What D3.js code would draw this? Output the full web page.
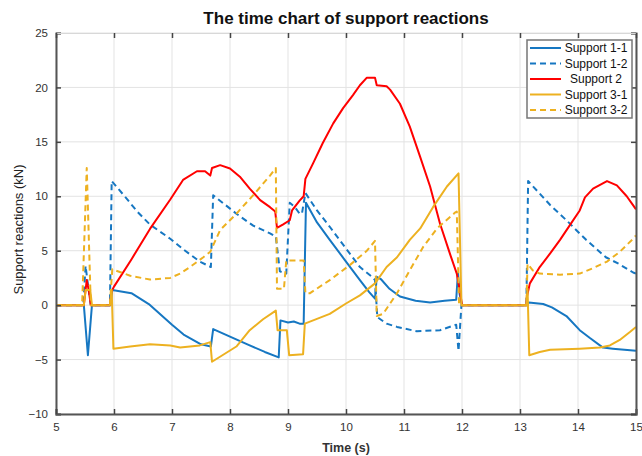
<!DOCTYPE html>
<html><head><meta charset="utf-8">
<script src="https://cdn.jsdelivr.net/npm/d3@7"></script>
<style>
html,body{margin:0;padding:0;background:#fff;}
text{font-family:"Liberation Sans Narrow","Arial Narrow","Liberation Sans",Arial,sans-serif;}
</style></head>
<body><svg id="chart" width="642" height="456"></svg>
<script>
// ---- data ----
const title = "The time chart of support reactions";
const xLabel = "Time (s)";
const yLabel = "Support reactions  (kN)";
const xTicks = [5,6,7,8,9,10,11,12,13,14,15];
const yTicks = [-10,-5,0,5,10,15,20,25];
const seriesNames = ["Support 1-1","Support 1-2","Support 2","Support 3-1","Support 3-2"];

const support11 = [[5,0],[5.48,0],[5.55,-4.6],[5.62,0],[5.94,0],[5.97,1.4],[6.3,1.1],[6.6,0.1],[7.0,-1.8],[7.2,-2.7],[7.5,-3.6],[7.67,-3.8],[7.71,-2.2],[8.0,-2.9],[8.3,-3.6],[8.6,-4.3],[8.84,-4.8],[8.87,-1.4],[9.0,-1.6],[9.1,-1.5],[9.2,-1.7],[9.27,-1.7],[9.31,9.4],[9.5,7.6],[9.72,6.0],[10.0,4.0],[10.24,2.3],[10.4,1.2],[10.5,0.6],[10.53,2.6],[10.6,2.4],[10.75,1.5],[10.93,0.8],[11.2,0.4],[11.45,0.25],[11.7,0.4],[11.9,0.5],[11.93,3.0],[11.96,1.0],[12.0,0],[13.12,0],[13.15,0.25],[13.4,0.1],[13.55,-0.2],[13.8,-1.0],[14.03,-2.3],[14.2,-3.0],[14.43,-3.9],[14.6,-4.0],[14.8,-4.1],[15,-4.2]];
const support12 = [[5,0],[5.47,0],[5.51,3.6],[5.56,1.5],[5.6,0],[5.93,0],[5.96,11.4],[6.2,9.9],[6.4,8.6],[6.62,7.4],[6.97,6.1],[7.2,5.1],[7.48,4.0],[7.67,3.5],[7.71,10.1],[8.11,8.4],[8.4,7.3],[8.69,6.6],[8.79,6.3],[8.86,3.1],[8.97,2.9],[9.03,9.4],[9.12,9.0],[9.2,8.4],[9.24,8.4],[9.3,10.3],[9.5,8.7],[9.72,7.2],[10.0,5.2],[10.24,3.5],[10.45,2.6],[10.5,2.3],[10.54,-1.1],[10.7,-1.7],[10.88,-2.0],[11.22,-2.4],[11.62,-2.3],[11.9,-1.8],[11.94,-4.2],[11.99,0],[13.11,0],[13.14,11.4],[13.52,9.2],[13.8,7.8],[14.14,6.0],[14.48,4.4],[14.7,3.8],[14.95,3.0],[15,2.9]];
const support2 = [[5,0],[5.48,0],[5.53,2.3],[5.57,1.2],[5.6,0],[5.93,0],[5.96,1.3],[6.0,1.7],[6.3,4.2],[6.62,7.0],[6.97,9.7],[7.19,11.5],[7.43,12.3],[7.57,12.3],[7.66,11.9],[7.69,12.6],[7.83,12.86],[8.0,12.55],[8.17,11.8],[8.34,10.7],[8.52,9.65],[8.69,9.0],[8.78,8.6],[8.81,7.1],[8.91,7.4],[9.03,7.8],[9.07,8.7],[9.2,9.6],[9.27,10.0],[9.3,11.6],[9.43,13.0],[9.6,14.9],[9.78,16.7],[9.95,18.1],[10.12,19.3],[10.24,20.2],[10.36,20.9],[10.5,20.9],[10.53,20.2],[10.7,20.1],[10.76,19.8],[10.93,18.5],[11.1,16.4],[11.28,13.6],[11.45,10.9],[11.62,7.5],[11.79,4.75],[11.91,2.9],[11.97,1.1],[12.0,0],[13.11,0],[13.12,0.8],[13.17,2.0],[13.34,3.5],[13.52,4.75],[13.69,6.0],[13.86,7.35],[14.03,8.7],[14.12,9.9],[14.26,10.7],[14.5,11.4],[14.67,11.0],[14.84,10.0],[15,8.8]];
const support31 = [[5,0],[5.48,0],[5.51,1.4],[5.59,1.4],[5.62,0],[5.93,0],[5.96,1.4],[5.99,-4.0],[6.28,-3.8],[6.62,-3.6],[6.97,-3.7],[7.14,-3.9],[7.48,-3.7],[7.66,-3.4],[7.69,-5.2],[8.11,-3.8],[8.34,-2.3],[8.57,-1.3],[8.79,-0.5],[8.82,-2.3],[8.98,-2.3],[9.02,-4.6],[9.26,-4.5],[9.29,-1.7],[9.72,-0.8],[10.0,0.15],[10.24,0.9],[10.5,2.0],[10.7,3.5],[10.88,4.4],[11.1,6.0],[11.28,7.05],[11.5,9.0],[11.74,10.9],[11.94,12.1],[11.99,0],[13.11,0],[13.13,1.5],[13.16,-4.6],[13.34,-4.3],[13.52,-4.1],[14.03,-4.0],[14.38,-3.9],[14.55,-3.7],[14.72,-3.2],[14.9,-2.45],[15,-2.0]];
const support32 = [[5,0],[5.45,0],[5.53,12.6],[5.6,0],[5.93,0],[5.97,3.3],[6.28,2.7],[6.62,2.35],[6.97,2.5],[7.14,2.9],[7.31,3.5],[7.54,4.4],[7.66,4.9],[7.83,6.9],[8.11,8.4],[8.4,10.1],[8.69,11.9],[8.79,12.6],[8.81,1.5],[8.93,1.5],[8.97,4.1],[9.27,4.1],[9.3,1.1],[9.38,1.1],[9.72,2.3],[10.07,3.7],[10.36,5.0],[10.5,5.9],[10.53,-1.0],[10.64,-0.8],[10.88,1.1],[11.1,3.2],[11.33,5.35],[11.57,7.05],[11.88,8.5],[11.91,8.6],[11.95,0],[13.11,0],[13.13,3.8],[13.22,3.2],[13.34,2.9],[13.69,2.8],[14.03,2.9],[14.26,3.4],[14.5,4.0],[14.72,4.9],[14.95,6.1],[15,6.4]];

const seriesData = [support11, support12, support2, support31, support32];
const colors = ["#1677C2","#1677C2","#FF0000","#EDB120","#EDB120"];
const dashed = [false,true,false,false,true];

// ---- layout ----
const svg = d3.select("#chart");
const L = 56, R = 636, T = 33, B = 414;
const x = d3.scaleLinear().domain([5,15]).range([L,R]);
const y = d3.scaleLinear().domain([-10,25]).range([B,T]);

// grid
const g = svg.append("g");
g.selectAll(".gx").data(xTicks).enter().append("line")
  .attr("x1",d=>x(d)).attr("x2",d=>x(d)).attr("y1",T).attr("y2",B)
  .attr("stroke","#e3e3e3").attr("stroke-width",1);
g.selectAll(".gy").data(yTicks).enter().append("line")
  .attr("y1",d=>y(d)).attr("y2",d=>y(d)).attr("x1",L).attr("x2",R)
  .attr("stroke","#e3e3e3").attr("stroke-width",1);

// series
svg.append("clipPath").attr("id","clip").append("rect")
  .attr("x",L).attr("y",T).attr("width",R-L).attr("height",B-T);
const line = d3.line().x(d=>x(d[0])).y(d=>y(d[1]));
const plot = svg.append("g").attr("clip-path","url(#clip)");
seriesData.forEach((s,i)=>{
  plot.append("path").datum(s).attr("d",line)
    .attr("fill","none").attr("stroke",colors[i]).attr("stroke-width",2)
    .attr("stroke-linejoin","round")
    .attr("stroke-dasharray",dashed[i]?"6,4":null);
});

// axes (MATLAB style, inward ticks)
const axL = svg.append("g").attr("transform",`translate(${L},0)`)
  .call(d3.axisLeft(y).tickValues(yTicks).tickSize(-5).tickPadding(8));
const axB = svg.append("g").attr("transform",`translate(0,${B})`)
  .call(d3.axisBottom(x).tickValues(xTicks).tickSize(-5).tickPadding(9));
const axR = svg.append("g").attr("transform",`translate(${R},0)`)
  .call(d3.axisRight(y).tickValues(yTicks).tickSize(-5).tickFormat(""));
const axT = svg.append("g").attr("transform",`translate(0,${T})`)
  .call(d3.axisTop(x).tickValues(xTicks).tickSize(-5).tickFormat(""));
[axL,axB,axR].forEach(a=>{
  a.select(".domain").attr("stroke","#555").attr("stroke-width",2);
  a.selectAll(".tick line").attr("stroke","#444").attr("stroke-width",1.5);
  a.selectAll("text").attr("fill","#333").attr("font-size","11.5px");
});
axT.select(".domain").attr("stroke","#d8d8d8").attr("stroke-width",1);
axT.selectAll(".tick line").attr("stroke","#444").attr("stroke-width",1.5);

// titles
svg.append("text").attr("x",(L+R)/2).attr("y",24).attr("text-anchor","middle")
  .attr("font-size","17px").attr("font-weight","bold").attr("fill","#111").text(title);
svg.append("text").attr("x",(L+R)/2).attr("y",452).attr("text-anchor","middle")
  .attr("font-size","12.5px").attr("font-weight","bold").attr("fill","#333").text(xLabel);
svg.append("text").attr("transform",`translate(23,${(T+B)/2 + 6}) rotate(-90)`)
  .attr("text-anchor","middle").attr("font-size","13px").attr("fill","#222").text(yLabel);

// legend
const lg = svg.append("g");
lg.append("rect").attr("x",527).attr("y",40).attr("width",105).attr("height",78)
  .attr("fill","#fff").attr("stroke","#777").attr("stroke-width",1.5);
seriesNames.forEach((n,i)=>{
  const yy = 48 + i*15.5;
  lg.append("line").attr("x1",530).attr("x2",561).attr("y1",yy).attr("y2",yy)
    .attr("stroke",colors[i]).attr("stroke-width",2)
    .attr("stroke-dasharray",dashed[i]?"6,4":null);
  lg.append("text").attr("x",596).attr("y",yy+4).attr("text-anchor","middle")
    .attr("font-size","12px").attr("fill","#111").text(n);
});
</script></body></html>
